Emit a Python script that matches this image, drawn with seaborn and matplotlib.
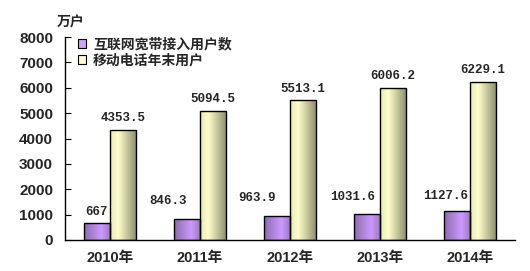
import matplotlib
matplotlib.use("Agg")
import matplotlib.pyplot as plt
import seaborn as sns
import pandas as pd
import numpy as np
from matplotlib.colors import LinearSegmentedColormap

years = ["2010年", "2011年", "2012年", "2013年", "2014年"]
broadband = [667, 846.3, 963.9, 1031.6, 1127.6]
mobile = [4353.5, 5094.5, 5513.1, 6006.2, 6229.1]
broadband_labels = ["667", "846.3", "963.9", "1031.6", "1127.6"]
mobile_labels = ["4353.5", "5094.5", "5513.1", "6006.2", "6229.1"]
series = ["互联网宽带接入用户数", "移动电话年末用户"]
yticks = [0, 1000, 2000, 3000, 4000, 5000, 6000, 7000, 8000]

sns.set_theme(style="white")
plt.rcParams['font.family'] = ['Noto Sans CJK SC', 'DejaVu Sans']

df = pd.DataFrame({
    "year": years * 2,
    "value": broadband + mobile,
    "series": [series[0]] * 5 + [series[1]] * 5,
})

fig = plt.figure(figsize=(5.3, 2.71), dpi=100)
ax = fig.add_axes([0.1226, 0.1144, 0.849, 0.749])

palette = {series[0]: "#CC99FF", series[1]: "#FFFFCC"}
sns.barplot(data=df, x="year", y="value", hue="series", palette=palette,
            width=0.58, ax=ax, edgecolor="black", linewidth=1.0, legend=True)

cm_purple = LinearSegmentedColormap.from_list(
    "p", [(0, "#8c6cac"), (0.65, "#cc99ff"), (1, "#9a76be")])
cm_beige = LinearSegmentedColormap.from_list(
    "b", [(0, "#e6e6b8"), (0.3, "#ffffcc"), (1, "#8c8c6a")])

grad = np.linspace(0, 1, 64).reshape(1, -1)
n = len(years)
for i, patch in enumerate(ax.patches[:2 * n]):
    cmap = cm_purple if i < n else cm_beige
    x0, y0 = patch.get_x(), patch.get_y()
    w, h = patch.get_width(), patch.get_height()
    im = ax.imshow(grad, cmap=cmap, aspect="auto",
                   extent=[x0, x0 + w, y0, y0 + h], zorder=patch.get_zorder() - 0.1,
                   interpolation="bicubic")
    im.set_clip_path(patch)
    patch.set_facecolor("none")

ax.set_xlim(-0.5, n - 0.5)
ax.set_ylim(0, 8000)
ax.set_yticks(yticks)
ax.set_yticklabels([str(t) for t in yticks], fontsize=11, fontweight="bold",
                   family=["Liberation Sans", "DejaVu Sans"])
ax.set_xticks(range(n))
ax.set_xticklabels(years, fontsize=10.5, fontweight="bold",
                   family=["Liberation Sans", "Noto Sans CJK SC"])
ax.set_xlabel("")
ax.set_ylabel("")

# minor ticks between categories on x axis
ax.set_xticks([i + 0.5 for i in range(n)], minor=True)
ax.tick_params(axis="x", which="major", length=0, pad=8)
ax.tick_params(axis="x", which="minor", direction="in", length=4, width=0.8, color="black")
ax.tick_params(axis="y", direction="in", length=4, width=0.8, color="black", pad=8.5, left=True)

for s in ["top", "right"]:
    ax.spines[s].set_visible(False)
for s in ["left", "bottom"]:
    ax.spines[s].set_color("black")
    ax.spines[s].set_linewidth(1.0)

bw = 0.29
label_font = dict(fontsize=9, fontweight="bold", family=["Liberation Mono", "DejaVu Sans Mono"])
b_dx = [0.0, -0.21, -0.22, -0.155, -0.13]
b_dy = [4, 8, 8.5, 8, 6.5]
for i in range(n):
    ax.annotate(broadband_labels[i], (i - bw / 2 + b_dx[i], broadband[i]),
                xytext=(0, b_dy[i]), textcoords="offset points", ha="center", va="bottom",
                **label_font)
    ax.annotate(mobile_labels[i], (i + bw / 2, mobile[i]),
                xytext=(0, 4), textcoords="offset points", ha="center", va="bottom",
                **label_font)

leg = ax.legend(loc="upper left", bbox_to_anchor=(0.01, 1.04), frameon=False,
                fontsize=10, handlelength=0.6, handleheight=0.6, handletextpad=0.5,
                labelspacing=0.15, borderaxespad=0.2)
for t in leg.get_texts():
    t.set_fontweight("bold")
for hnd in leg.legend_handles:
    hnd.set_edgecolor("black")
    hnd.set_linewidth(0.8)

fig.text(57 / 530, 1 - 22 / 271, "万户", fontsize=10, fontweight="bold", va="center", ha="left")

fig.savefig("out.png", dpi=100)
